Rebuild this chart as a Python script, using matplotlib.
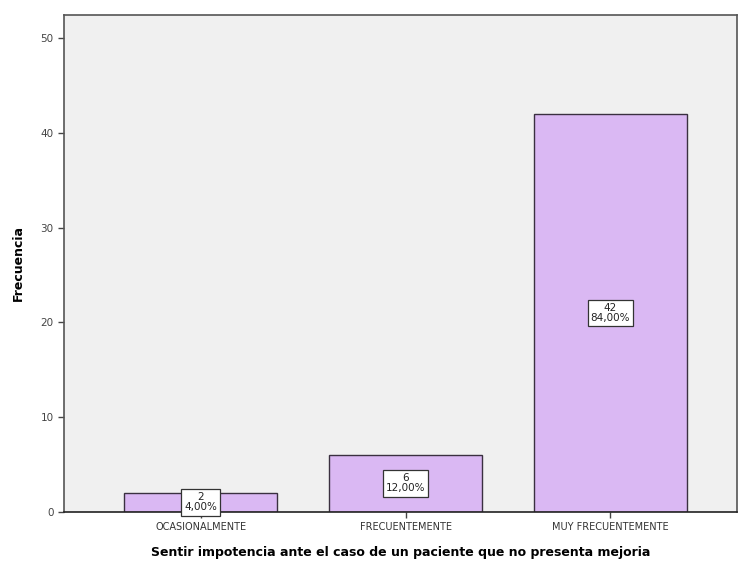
import matplotlib
matplotlib.use("Agg")
from matplotlib import pyplot as plt

categorias = ['OCASIONALMENTE', 'FRECUENTEMENTE', 'MUY FRECUENTEMENTE']
frecuencias = [2, 6, 42]
porcentajes = ['4,00%', '12,00%', '84,00%']
yticks = [0, 10, 20, 30, 40, 50]

fig = plt.figure(figsize=(7.4, 5.65), dpi=100)
ax = fig.add_axes([0.0865, 0.094, 0.91, 0.88])
ax.set_facecolor('#f0f0f0')

x = list(range(len(categorias)))
bars = ax.bar(x, frecuencias, width=0.75, color='#dab8f3', edgecolor='#3a3040', linewidth=1.0, zorder=2)

for xi, f, p in zip(x, frecuencias, porcentajes):
    ax.text(xi, f / 2, f'{f}\n{p}', ha='center', va='center', fontsize=7.5,
            color='#222222', linespacing=1.0, zorder=3,
            bbox=dict(boxstyle='square,pad=0.3', facecolor='white', edgecolor='#333333', linewidth=0.9))

ax.set_xlim(-0.667, 2.62)
ax.set_ylim(0, 52.5)
ax.set_xticks(x)
ax.set_xticklabels(categorias, fontsize=7, color='#333333')
ax.set_yticks(yticks)
ax.set_yticklabels([str(t) for t in yticks], fontsize=7.5, color='#444444')
ax.tick_params(axis='both', length=4, width=1, color='#444444')

for s in ['left', 'bottom', 'top', 'right']:
    ax.spines[s].set_color('#555555')
    ax.spines[s].set_linewidth(1.2)
ax.spines['bottom'].set_color('#222222')

ax.set_ylabel('Frecuencia', fontsize=9, fontweight='bold', labelpad=11)
ax.set_xlabel('Sentir impotencia ante el caso de un paciente que no presenta mejoria',
              fontsize=9, fontweight='bold', labelpad=10)

fig.savefig('out.png', dpi=100)
